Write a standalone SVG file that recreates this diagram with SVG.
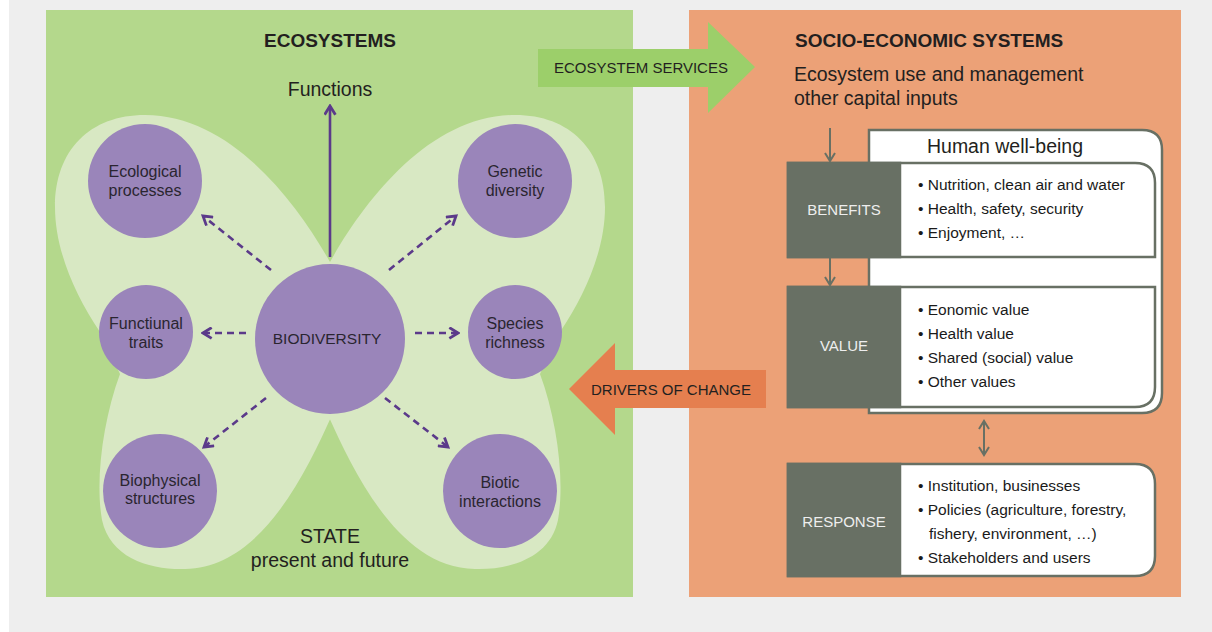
<svg xmlns="http://www.w3.org/2000/svg" width="1212" height="632" viewBox="0 0 1212 632">
<defs>
<style>
text{font-family:"Liberation Sans",Arial,sans-serif;fill:#231f20}
.title{font-size:19px;font-weight:bold}
.big{font-size:19.5px}
.circ{fill:#9a85ba}
.ct{font-size:16px;text-anchor:middle;fill:#2a2530}
.lobe{fill:#d8e8c3}
.dash{stroke:#5b3a8a;stroke-width:2.6;fill:none;stroke-dasharray:7 5;marker-end:url(#pa)}
.solid{stroke:#5b3a8a;stroke-width:2.6;fill:none;marker-end:url(#pa)}
.gline{stroke:#687064;stroke-width:2;fill:none}
.box{fill:#fff;stroke:#687064;stroke-width:2.5}
.dark{fill:#687064;stroke:#687064;stroke-width:2.5}
.lab{font-size:15px;fill:#eeeeee;text-anchor:middle}
.li{font-size:15.5px;fill:#1a1a1a}
.ar{font-size:15px;text-anchor:middle}
</style>
<marker id="pa" viewBox="0 0 12 12" refX="10" refY="6" markerWidth="13" markerHeight="13" markerUnits="userSpaceOnUse" orient="auto">
<path d="M2,1 L10,6 L2,11" fill="none" stroke="#5b3a8a" stroke-width="2.6"/>
</marker>
<marker id="ga" viewBox="0 0 12 12" refX="10" refY="6" markerWidth="12" markerHeight="12" markerUnits="userSpaceOnUse" orient="auto">
<path d="M2,1 L10,6 L2,11" fill="none" stroke="#687064" stroke-width="2"/>
</marker>
<marker id="gs" viewBox="0 0 12 12" refX="2" refY="6" markerWidth="12" markerHeight="12" markerUnits="userSpaceOnUse" orient="auto">
<path d="M10,1 L2,6 L10,11" fill="none" stroke="#687064" stroke-width="2"/>
</marker>
</defs>
<rect x="0" y="0" width="1212" height="632" fill="#ffffff"/>
<rect x="9" y="0" width="1203" height="632" fill="#eeeeee"/>

<g id="ecosystems-panel">
<rect x="46" y="10" width="587" height="587" fill="#b4d88c"/>
<path class="lobe" d="M330 262 C295 200 230 115 145 115 C90 115 55 150 55 207 C55 250 75 295 100 332 L120 374 C103 420 95 480 102 520 C110 558 150 570 185 569 C260 568 305 475 332 415 Z"/>
<path class="lobe" d="M330 262 C365 200 430 115 515 115 C570 115 605 150 605 207 C605 250 585 295 560 332 L540 374 C557 420 565 480 558 520 C550 558 510 570 475 569 C400 568 355 475 328 415 Z"/>
<text class="title" x="330" y="47" text-anchor="middle">ECOSYSTEMS</text>
<text class="big" x="330" y="96" text-anchor="middle">Functions</text>
<text class="big" x="330" y="543" text-anchor="middle">STATE</text>
<text class="big" x="330" y="567" text-anchor="middle">present and future</text>
</g>

<g id="socio-panel">
<rect x="689" y="10" width="492" height="587" fill="#eca177"/>
<text class="title" x="795" y="47">SOCIO-ECONOMIC SYSTEMS</text>
<text class="big" x="794" y="81">Ecosystem use and management</text>
<text class="big" x="794" y="105">other capital inputs</text>
</g>

<g id="human-well-being">
<path class="box" d="M869 130 L1142 130 Q1162 130 1162 150 L1162 393 Q1162 413 1142 413 L869 413 Z"/>
<text class="big" x="1005" y="153" text-anchor="middle">Human well-being</text>
</g>

<g id="benefits">
<path class="box" d="M788 163 L1135 163 Q1155 163 1155 183 L1155 257 L788 257 Z"/>
<rect class="dark" x="788" y="163" width="112" height="94"/>
<text class="lab" x="844" y="215">BENEFITS</text>
<text class="li" x="918" y="190">• Nutrition, clean air and water</text>
<text class="li" x="918" y="214">• Health, safety, security</text>
<text class="li" x="918" y="238">• Enjoyment, …</text>
</g>

<g id="value">
<path class="box" d="M788 287 L1155 287 L1155 387 Q1155 407 1135 407 L788 407 Z"/>
<rect class="dark" x="788" y="287" width="112" height="120"/>
<text class="lab" x="844" y="351">VALUE</text>
<text class="li" x="918" y="315">• Eonomic value</text>
<text class="li" x="918" y="339">• Health value</text>
<text class="li" x="918" y="363">• Shared (social) value</text>
<text class="li" x="918" y="387">• Other values</text>
</g>

<g id="response">
<path class="box" d="M788 464 L1135 464 Q1155 464 1155 484 L1155 556 Q1155 576 1135 576 L788 576 Z"/>
<rect class="dark" x="788" y="464" width="112" height="112"/>
<text class="lab" x="844" y="527">RESPONSE</text>
<text class="li" x="918" y="491">• Institution, businesses</text>
<text class="li" x="918" y="515">• Policies (agriculture, forestry,</text>
<text class="li" x="929" y="539">fishery, environment, …)</text>
<text class="li" x="918" y="563">• Stakeholders and users</text>
</g>

<g id="ecosystem-services">
<path d="M538 49 L708 49 L708 22 L755 67 L708 113 L708 87 L538 87 Z" fill="#9ccf6a"/>
<text class="ar" x="641" y="73">ECOSYSTEM SERVICES</text>
</g>

<g id="drivers-of-change">
<path d="M766 370 L615 370 L615 343 L569 389 L615 435 L615 408 L766 408 Z" fill="#e57f4f"/>
<text class="ar" x="671" y="395">DRIVERS OF CHANGE</text>
</g>

<g id="node-ecological-processes">
<circle class="circ" cx="145" cy="181" r="57"/>
<text class="ct" x="145" y="177">Ecological</text>
<text class="ct" x="145" y="196">processes</text>
</g>
<g id="node-genetic-diversity">
<circle class="circ" cx="515" cy="181" r="57"/>
<text class="ct" x="515" y="177">Genetic</text>
<text class="ct" x="515" y="196">diversity</text>
</g>
<g id="node-functional-traits">
<circle class="circ" cx="146" cy="332" r="47"/>
<text class="ct" x="146" y="329">Functiunal</text>
<text class="ct" x="146" y="348">traits</text>
</g>
<g id="node-species-richness">
<circle class="circ" cx="515" cy="332" r="47"/>
<text class="ct" x="515" y="329">Species</text>
<text class="ct" x="515" y="348">richness</text>
</g>
<g id="node-biodiversity">
<circle class="circ" cx="330" cy="339" r="75"/>
<text class="ct" x="327" y="344" style="font-size:15.5px">BIODIVERSITY</text>
</g>
<g id="node-biophysical-structures">
<circle class="circ" cx="160" cy="491" r="57"/>
<text class="ct" x="160" y="486">Biophysical</text>
<text class="ct" x="160" y="504">structures</text>
</g>
<g id="node-biotic-interactions">
<circle class="circ" cx="500" cy="491" r="57"/>
<text class="ct" x="500" y="488">Biotic</text>
<text class="ct" x="500" y="507">interactions</text>
</g>

<g id="connectors">
<line class="solid" x1="330" y1="257" x2="330" y2="106"/>
<line class="dash" x1="271" y1="270" x2="203" y2="216"/>
<line class="dash" x1="389" y1="270" x2="456" y2="216"/>
<line class="dash" x1="246" y1="333" x2="203" y2="333"/>
<line class="dash" x1="415" y1="333" x2="458" y2="333"/>
<line class="dash" x1="266" y1="398" x2="204" y2="447"/>
<line class="dash" x1="385" y1="398" x2="448" y2="447"/>
<line class="gline" x1="830" y1="128" x2="830" y2="161" marker-end="url(#ga)"/>
<line class="gline" x1="830" y1="258" x2="830" y2="285" marker-end="url(#ga)"/>
<line class="gline" x1="984" y1="421" x2="984" y2="455" marker-start="url(#gs)" marker-end="url(#ga)"/>
</g>
</svg>
